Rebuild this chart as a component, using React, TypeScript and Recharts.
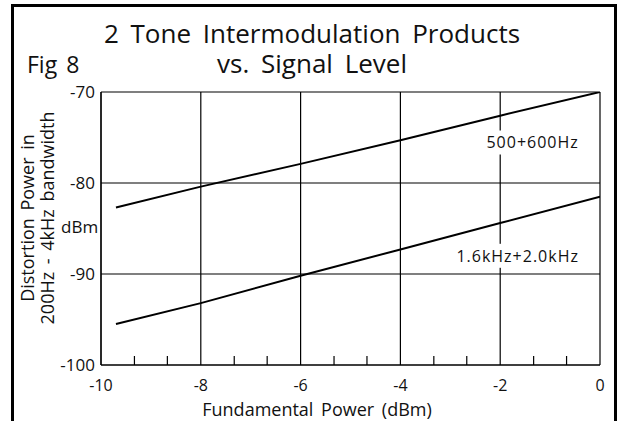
import { LineChart, Line, XAxis, YAxis, CartesianGrid, ReferenceDot } from 'recharts';

// fundamental power (dBm) where the curves were read
const powerIn = [-9.7, -8, -6, -4, -2, 0];
// distortion power (dBm) for each tone pair
const pair500 = [-82.7, -80.4, -77.9, -75.3, -72.6, -70];
const pair1600 = [-95.5, -93.2, -90.2, -87.3, -84.4, -81.5];

const xTicks = [-10, -8, -6, -4, -2, 0];
const xMinorTicks = [-9.33, -8.67, -7.33, -6.67, -5.33, -4.67, -3.33, -2.67, -1.33, -0.67];
const yTicks = [-100, -90, -80, -70];

const data = powerIn.map((x, i) => ({ x, a: pair500[i], b: pair1600[i] }));
const allXTicks = [...xTicks, ...xMinorTicks].sort((p, q) => p - q);

const FONT = '"Open Sans", sans-serif';
const X_TICK_MARGIN = 15;

// major ticks get a label, minor ticks a short mark pointing into the plot
function XTick(props: any) {
  const { x, y, payload } = props;
  const v = payload.value;
  if (xTicks.includes(v)) {
    return (
      <text x={x} y={y} dy="0.71em" textAnchor="middle" fontSize={16} fontFamily={FONT} fill="#111">
        {v}
      </text>
    );
  }
  const axisY = y - X_TICK_MARGIN;
  return <line x1={x} x2={x} y1={axisY} y2={axisY - 9} stroke="#000" strokeWidth={1.2} />;
}

function boxedLabel(text: string, w: number) {
  return (props: any) => {
    const { viewBox } = props;
    const cx = viewBox.x + viewBox.width / 2;
    const cy = viewBox.y + viewBox.height / 2;
    return (
      <g>
        <rect x={cx - w / 2} y={cy - 12} width={w} height={24} fill="#fff" />
        <text x={cx} y={cy} dy="0.36em" textAnchor="middle" fontSize={16} letterSpacing={1} fontFamily={FONT} fill="#111">
          {text}
        </text>
      </g>
    );
  };
}

const titleLine = { position: 'absolute' as const, left: 0, width: 624, textAlign: 'center' as const, fontSize: 26, lineHeight: '30px', height: 30, wordSpacing: 5 };

export default function App() {
  return (
    <div style={{ position: 'absolute', left: 0, top: 0, width: 620, height: 421, background: '#fff', fontFamily: FONT, color: '#111', overflow: 'hidden' }}>
      {/* figure frame */}
      <div style={{ position: 'absolute', left: 11, top: 4, width: 600, height: 430, borderLeft: '3px solid #000', borderTop: '3px solid #000', borderRight: '3px solid #000' }} />
      <div style={{ ...titleLine, top: 18 }}>2 Tone Intermodulation Products</div>
      <div style={{ ...titleLine, top: 48 }}>vs. Signal Level</div>
      <div style={{ position: 'absolute', left: 27, top: 50, fontSize: 23, lineHeight: '28px', wordSpacing: 3 }}>Fig 8</div>
      <div style={{ position: 'absolute', left: 37, top: 218, width: 0, height: 0 }}>
        <div style={{ position: 'absolute', transform: 'translate(-50%, -50%) rotate(-90deg)', whiteSpace: 'nowrap', textAlign: 'center', fontSize: 18, lineHeight: '20px', wordSpacing: 3 }}>
          Distortion Power in
          <br />
          200Hz - 4kHz bandwidth
        </div>
      </div>
      <div style={{ position: 'absolute', left: 61, top: 217, fontSize: 17, lineHeight: '20px' }}>dBm</div>
      <div style={{ position: 'absolute', left: 0, width: 634, top: 399, textAlign: 'center', fontSize: 18, lineHeight: '20px', wordSpacing: 3 }}>
        Fundamental Power (dBm)
      </div>

      <div style={{ position: 'absolute', left: 0, top: 0 }}>
        <LineChart width={620} height={421} data={data} margin={{ top: 92, right: 20, bottom: 0, left: 0 }}>
          <CartesianGrid stroke="#000" strokeWidth={1.2} verticalValues={xTicks} horizontalValues={yTicks} />
          <XAxis
            type="number"
            dataKey="x"
            domain={[-10, 0]}
            allowDataOverflow
            ticks={allXTicks}
            interval={0}
            height={56}
            tickLine={false}
            tickSize={0}
            tickMargin={X_TICK_MARGIN}
            axisLine={{ stroke: '#000', strokeWidth: 1.2 }}
            tick={XTick}
          />
          <YAxis
            type="number"
            domain={[-100, -70]}
            allowDataOverflow
            ticks={yTicks}
            width={101}
            tickLine={false}
            tickSize={0}
            tickMargin={6}
            axisLine={{ stroke: '#000', strokeWidth: 1.2 }}
            tick={{ fill: '#111', fontSize: 17, fontFamily: FONT }}
          />
          <Line type="linear" dataKey="a" stroke="#000" strokeWidth={2} dot={false} isAnimationActive={false} />
          <Line type="linear" dataKey="b" stroke="#000" strokeWidth={2} dot={false} isAnimationActive={false} />
          <ReferenceDot x={-1.35} y={-75.55} r={0} stroke="none" label={boxedLabel('500+600Hz', 100)} />
          <ReferenceDot x={-1.65} y={-88.0} r={0} stroke="none" label={boxedLabel('1.6kHz+2.0kHz', 126)} />
        </LineChart>
      </div>
    </div>
  );
}
